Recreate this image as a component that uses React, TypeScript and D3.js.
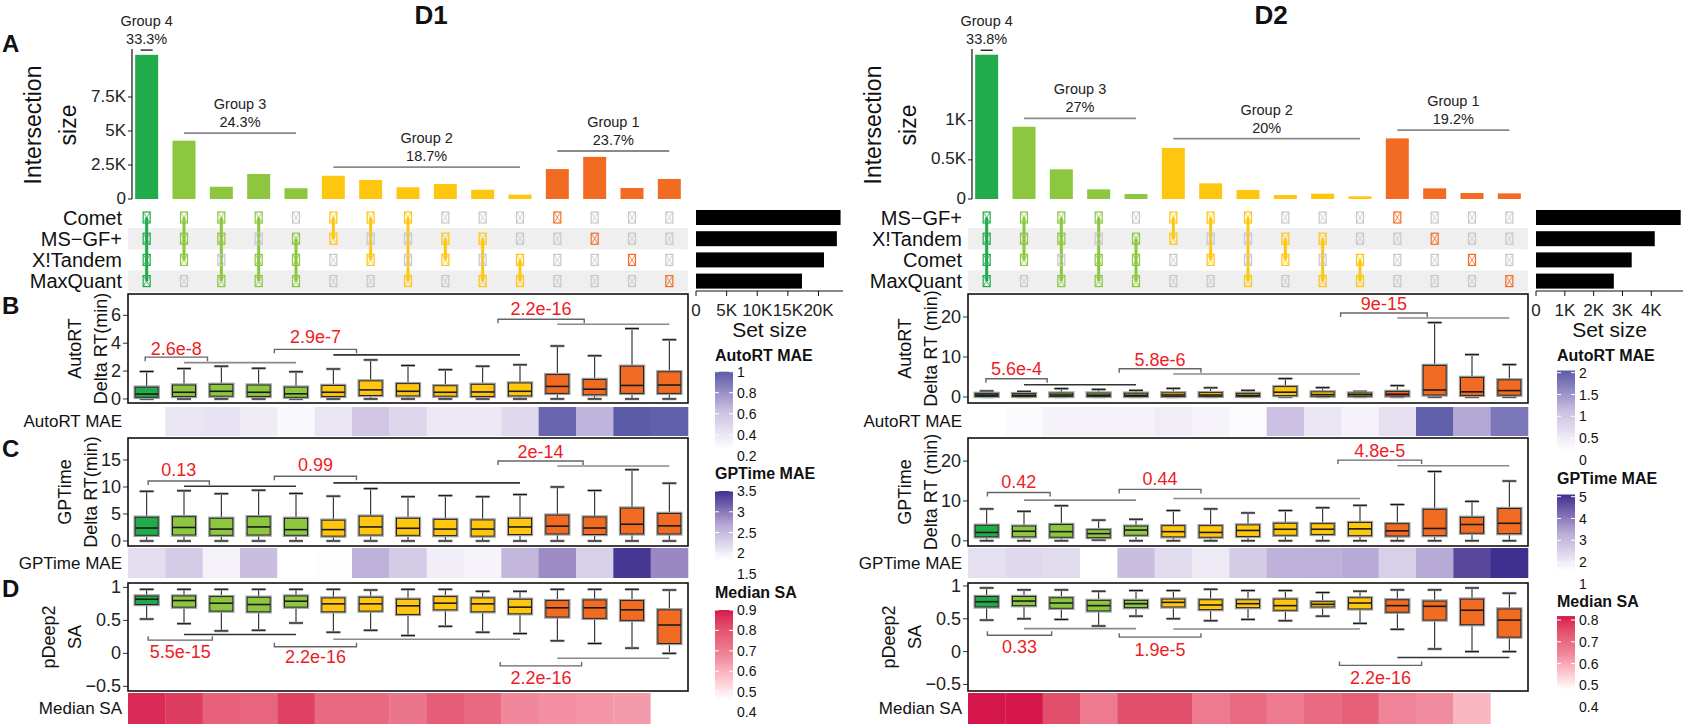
import React from "react";
import * as d3 from "d3";

const FONT = "'Liberation Sans', Arial, Helvetica, sans-serif";

// ---------- shared structure ----------
const columnGroup = [4, 3, 3, 3, 3, 2, 2, 2, 2, 2, 2, 1, 1, 1, 1];
const groupColor: Record<number, string> = { 4: "#21ab4a", 3: "#8dc63f", 2: "#ffc60f", 1: "#f26b22" };
const membership = [
  [1, 1, 1, 1], [1, 1, 1, 0], [1, 1, 0, 1], [1, 0, 1, 1], [0, 1, 1, 1],
  [1, 1, 0, 0], [1, 0, 1, 0], [1, 0, 0, 1], [0, 1, 1, 0], [0, 1, 0, 1], [0, 0, 1, 1],
  [1, 0, 0, 0], [0, 1, 0, 0], [0, 0, 1, 0], [0, 0, 0, 1],
];
const groupNames = ["Group 4", "Group 3", "Group 2", "Group 1"];
const groupSpans = [[1, 1], [2, 5], [6, 11], [12, 15]];
const heatLabels = ["AutoRT MAE", "GPTime MAE", "Median SA"];

// ---------- D1 ----------
const d1Sets = ["Comet", "MS−GF+", "X!Tandem", "MaxQuant"];
const d1SetSizes = [23.6, 23.0, 20.9, 17.3]; // K
const d1Intersections = [10.6, 4.29, 0.9, 1.84, 0.79, 1.71, 1.4, 0.86, 1.1, 0.68, 0.32, 2.2, 3.1, 0.81, 1.47]; // K
const d1GroupPct = ["33.3%", "24.3%", "18.7%", "23.7%"];
const d1GroupLineY = [10.95, 4.85, 2.35, 3.53];
const d1BarTicks = [0, 2.5, 5, 7.5];
const d1BarTickLabels = ["0", "2.5K", "5K", "7.5K"];
const d1SetTicks = [0, 5, 10, 15, 20];
const d1SetTickLabels = ["0", "5K", "10K", "15K", "20K"];
// boxes: [lower whisker, q1, median, q3, upper whisker]
const d1AutoRT = [
  [0, 0.12, 0.35, 0.85, 1.97], [0, 0.18, 0.48, 1.0, 2.18], [0, 0.2, 0.55, 1.05, 2.35], [0, 0.18, 0.48, 1.0, 2.2],
  [0, 0.12, 0.37, 0.85, 1.95], [0, 0.18, 0.48, 0.97, 2.15], [0, 0.25, 0.65, 1.3, 2.8], [0, 0.22, 0.55, 1.1, 2.4],
  [0, 0.2, 0.48, 0.95, 2.1], [0, 0.18, 0.5, 1.05, 2.35], [0, 0.22, 0.55, 1.15, 2.45], [0, 0.4, 0.9, 1.75, 3.8],
  [0, 0.3, 0.7, 1.4, 3.1], [0, 0.4, 0.97, 2.35, 5.05], [0, 0.4, 1.0, 1.95, 4.25],
];
const d1GPTime = [
  [0, 1.05, 2.4, 4.4, 9.2], [0, 1.1, 2.5, 4.5, 9.3], [0, 1.05, 2.2, 4.2, 8.75], [0, 1.1, 2.6, 4.5, 9.4],
  [0, 1.05, 2.1, 4.2, 8.8], [0, 0.9, 2.1, 3.85, 8.3], [0, 1.1, 2.6, 4.6, 9.7], [0, 1.05, 2.35, 4.2, 8.2],
  [0, 1.0, 2.2, 4.0, 8.4], [0, 0.9, 2.2, 3.9, 8.2], [0, 1.2, 2.6, 4.2, 8.6], [0, 1.3, 2.75, 4.8, 10.0],
  [0, 1.2, 2.4, 4.45, 9.35], [0, 1.3, 3.1, 6.1, 13.2], [0, 1.3, 2.8, 5.1, 10.7],
];
const d1SA = [
  [0.52, 0.74, 0.82, 0.87, 0.97], [0.45, 0.7, 0.8, 0.87, 0.97], [0.34, 0.64, 0.76, 0.86, 0.97], [0.35, 0.63, 0.74, 0.85, 0.97],
  [0.46, 0.7, 0.79, 0.87, 0.97], [0.32, 0.63, 0.75, 0.84, 0.97], [0.35, 0.64, 0.75, 0.85, 0.96], [0.27, 0.59, 0.72, 0.82, 0.97],
  [0.41, 0.66, 0.76, 0.86, 0.97], [0.32, 0.63, 0.75, 0.84, 0.94], [0.3, 0.6, 0.7, 0.82, 0.94], [0.19, 0.55, 0.69, 0.8, 0.97],
  [0.15, 0.53, 0.69, 0.81, 0.97], [0.08, 0.5, 0.66, 0.8, 0.97], [0.0, 0.15, 0.43, 0.66, 0.96],
];
// brackets: [fromCol, toCol, y, labelY, label]; spans: [fromCol, toCol, y, dark]
const d1AutoBrackets: [number, number, number, number, string][] = [
  [0.96, 2.63, 3.0, 3.56, "2.6e-8"], [4.42, 6.62, 3.56, 4.43, "2.9e-7"], [10.41, 12.72, 5.72, 6.44, "2.2e-16"],
];
const d1AutoSpans = [[2, 5, 2.61, 0], [6, 11, 3.16, 1], [12, 15, 5.36, 0]];
const d1GPBrackets: [number, number, number, number, string][] = [
  [1.04, 2.68, 11.12, 13.1, "0.13"], [4.42, 6.62, 11.98, 14.0, "0.99"], [10.41, 12.69, 14.81, 16.47, "2e-14"],
];
const d1GPSpans = [[2, 5, 10.14, 1], [6, 11, 10.76, 1], [12, 15, 13.89, 0]];
const d1SABrackets: [number, number, number, number, string][] = [
  [1.04, 2.76, 0.2, 0.025, "5.5e-15"], [4.42, 6.62, 0.1, -0.06, "2.2e-16"], [10.47, 12.65, -0.19, -0.375, "2.2e-16"],
];
const d1SASpans = [[2, 5, 0.285, 1], [6, 11, 0.215, 0], [12, 15, -0.075, 0]];
const d1AutoHeat = [0.26, 0.41, 0.42, 0.37, 0.3, 0.41, 0.59, 0.5, 0.39, 0.39, 0.48, 0.96, 0.67, 1.0, 0.98];
const d1GPHeat = [2.17, 2.34, 1.97, 2.47, 1.84, 1.86, 2.59, 2.34, 2.0, 1.94, 2.54, 2.87, 2.3, 3.45, 2.89];
const d1SAHeat = [0.877, 0.847, 0.77, 0.76, 0.84, 0.75, 0.75, 0.72, 0.78, 0.75, 0.675, 0.66, 0.65, 0.64, 0.46];
const d1AutoTicks = [1, 0.8, 0.6, 0.4, 0.2];
const d1GPTicks = [3.5, 3, 2.5, 2, 1.5];
const d1SATicks = [0.9, 0.8, 0.7, 0.6, 0.5, 0.4];

// ---------- D2 ----------
const d2Sets = ["MS−GF+", "X!Tandem", "Comet", "MaxQuant"];
const d2SetSizes = [5.02, 4.12, 3.32, 2.7];
const d2Intersections = [1.843, 0.923, 0.379, 0.123, 0.064, 0.651, 0.2, 0.115, 0.051, 0.068, 0.034, 0.774, 0.136, 0.077, 0.072];
const d2GroupPct = ["33.8%", "27%", "20%", "19.2%"];
const d2GroupLineY = [1.9, 1.03, 0.77, 0.88];
const d2BarTicks = [0, 0.5, 1];
const d2BarTickLabels = ["0", "0.5K", "1K"];
const d2SetTicks = [0, 1, 2, 3, 4];
const d2SetTickLabels = ["0", "1K", "2K", "3K", "4K"];
const d2AutoRT = [
  [0, 0.15, 0.45, 0.9, 1.5], [0, 0.15, 0.4, 0.85, 1.4], [0, 0.15, 0.5, 1.0, 2.1], [0, 0.15, 0.45, 1.0, 1.9],
  [0, 0.15, 0.4, 0.95, 1.65], [0, 0.15, 0.5, 1.05, 2.15], [0, 0.15, 0.5, 1.1, 2.3], [0, 0.15, 0.4, 0.9, 1.65],
  [0, 0.35, 1.2, 2.6, 4.6], [0, 0.2, 0.6, 1.3, 2.35], [0, 0.2, 0.6, 1.0, 1.4], [0, 0.25, 0.7, 1.4, 2.85],
  [0, 0.5, 1.75, 7.9, 18.6], [0, 0.4, 1.3, 4.9, 10.6], [0, 0.45, 1.6, 4.3, 8.1],
];
const d2GPTime = [
  [0, 1.0, 2.1, 3.9, 8.0], [0, 1.0, 2.4, 3.7, 7.4], [0, 0.9, 2.3, 4.1, 8.8], [0.2, 0.8, 1.8, 2.8, 5.2],
  [0, 1.4, 2.7, 3.7, 5.4], [0, 1.0, 2.3, 3.8, 7.6], [0, 0.9, 2.1, 3.8, 8.0], [0, 1.1, 2.6, 4.0, 7.0],
  [0, 1.4, 2.9, 4.4, 7.6], [0, 1.6, 2.9, 4.3, 8.3], [0, 1.3, 3.0, 4.6, 8.9], [0, 1.2, 2.5, 4.3, 9.1],
  [0, 1.3, 3.1, 7.9, 17.4], [0, 1.9, 4.1, 5.9, 9.9], [0, 1.8, 4.4, 8.1, 15.0],
];
const d2SA = [
  [0.48, 0.68, 0.76, 0.84, 0.97], [0.5, 0.7, 0.77, 0.84, 0.94], [0.49, 0.66, 0.74, 0.82, 0.94], [0.39, 0.62, 0.7, 0.78, 0.92],
  [0.54, 0.67, 0.73, 0.78, 0.93], [0.5, 0.68, 0.75, 0.8, 0.93], [0.47, 0.64, 0.71, 0.79, 0.95], [0.49, 0.67, 0.73, 0.79, 0.93],
  [0.47, 0.63, 0.7, 0.8, 0.93], [0.54, 0.68, 0.72, 0.76, 0.9], [0.43, 0.65, 0.74, 0.82, 0.92], [0.34, 0.6, 0.7, 0.79, 0.94],
  [0.04, 0.48, 0.69, 0.77, 0.94], [0.0, 0.41, 0.63, 0.8, 0.97], [0.0, 0.22, 0.48, 0.65, 0.89],
];
const d2AutoBrackets: [number, number, number, number, string][] = [
  [0.98, 2.62, 4.58, 7.1, "5.6e-4"], [4.55, 6.74, 7.08, 9.33, "5.8e-6"], [10.48, 12.8, 21.0, 23.2, "9e-15"],
];
const d2AutoSpans = [[2, 5, 3.08, 1], [6, 11, 5.75, 0], [12, 15, 19.75, 0]];
const d2GPBrackets: [number, number, number, number, string][] = [
  [1.02, 2.7, 12.13, 14.8, "0.42"], [4.55, 6.74, 12.9, 15.4, "0.44"], [10.41, 12.65, 20.25, 22.6, "4.8e-5"],
];
const d2GPSpans = [[2, 5, 10.2, 0], [6, 11, 10.63, 0], [12, 15, 18.83, 0]];
const d2SABrackets: [number, number, number, number, string][] = [
  [1.02, 2.74, 0.25, 0.07, "0.33"], [4.55, 6.74, 0.22, 0.03, "1.9e-5"], [10.45, 12.65, -0.21, -0.4, "2.2e-16"],
];
const d2SASpans = [[2, 5, 0.35, 0], [6, 11, 0.345, 0], [12, 15, -0.09, 1]];
const d2AutoHeat = [0.2, 0.27, 0.38, 0.4, 0.38, 0.45, 0.36, 0.25, 1.1, 0.56, 0.38, 0.65, 2.0, 1.32, 1.78];
const d2GPHeat = [2.23, 2.37, 2.3, 1.6, 2.93, 2.3, 2.02, 2.65, 3.18, 3.21, 3.35, 2.55, 3.35, 4.75, 5.1];
const d2SAHeat = [0.82, 0.82, 0.75, 0.67, 0.75, 0.75, 0.67, 0.7, 0.67, 0.7, 0.72, 0.65, 0.64, 0.58, 0.48];
const d2AutoTicks = [2, 1.5, 1, 0.5, 0];
const d2GPTicks = [5, 4, 3, 2, 1];
const d2SATicks = [0.8, 0.7, 0.6, 0.5, 0.4];

// ---------- helpers ----------
function textW(s: string, size: number) {
  let w = 0;
  for (const ch of s) {
    if ("0123456789".includes(ch)) w += 0.556;
    else if (ch === ".") w += 0.278;
    else if (ch === "−") w += 0.584;
    else if (ch === "K") w += 0.667;
    else w += 0.556;
  }
  return w * size;
}
const fmtTick = (v: number) => (v < 0 ? "−" + String(-v) : String(v));

const PURPLE_A = ["#ffffff", "#cbbfe1", "#5b5ba8"];
const PURPLE_G = ["#ffffff", "#b8aad6", "#3f3090"];
const CRIMSON = ["#ffffff", "#ef8499", "#d6174e"];
function makeColor(dom: number[], colors: string[]) {
  return d3.scaleLinear<string>()
    .domain([dom[0], (dom[0] + dom[1]) / 2, dom[1]])
    .range(colors)
    .interpolate(d3.interpolateLab)
    .clamp(true);
}

const BAND_W = 560;
const BAR_ZERO = 199;
const BAR_TOP = 49;
const ROW_Y0 = 217.5;
const ROW_H = 21.2;

type BoxPanelProps = {
  L: number; top: number; bottom: number; domain: number[]; ticks: number[];
  boxes: number[][]; brackets: [number, number, number, number, string][]; spans: number[][];
  title1: string; title2: string;
};

function BoxPanel({ L, top, bottom, domain, ticks, boxes, brackets, spans, title1, title2 }: BoxPanelProps) {
  const y = d3.scaleLinear().domain(domain).range([bottom, top]);
  const cx = d3.scaleLinear().domain([0.5, 15.5]).range([L, L + BAND_W]);
  const tickFont = 18;
  const maxW = d3.max(ticks, (t) => textW(fmtTick(t), tickFont)) || 0;
  const labRight = L - 7;
  const t2x = labRight - maxW - 10;
  const t1x = t2x - 26;
  const midY = (top + bottom) / 2;
  const hw = 11.5;
  return (
    <g>
      {ticks.map((t) => (
        <g key={t}>
          <line x1={L - 5} x2={L} y1={y(t)} y2={y(t)} stroke="#333" strokeWidth={1} />
          <text x={labRight} y={y(t)} textAnchor="end" dominantBaseline="central" fontSize={tickFont} fill="#222">
            {fmtTick(t)}
          </text>
        </g>
      ))}
      <text transform={`translate(${t1x},${midY}) rotate(-90)`} textAnchor="middle" dominantBaseline="central" fontSize={18} fill="#111">
        {title1}
      </text>
      <text transform={`translate(${t2x},${midY}) rotate(-90)`} textAnchor="middle" dominantBaseline="central" fontSize={18} fill="#111">
        {title2}
      </text>
      {spans.map((s, i) => (
        <line key={"s" + i} x1={cx(s[0])} x2={cx(s[1])} y1={y(s[2])} y2={y(s[2])} stroke={s[3] ? "#333" : "#8a8a8a"} strokeWidth={1.6} />
      ))}
      {brackets.map((b, i) => {
        const yb = y(b[2]);
        const labelAbove = b[3] > b[2];
        const t = labelAbove ? 4 : -4;
        const x1 = cx(b[0]);
        const x2 = cx(b[1]);
        return (
          <g key={"b" + i}>
            <path d={`M${x1},${yb + t}L${x1},${yb}L${x2},${yb}L${x2},${yb + t}`} fill="none" stroke="#666" strokeWidth={1.4} />
            <text x={(x1 + x2) / 2} y={y(b[3])} textAnchor="middle" dominantBaseline="central" fontSize={18} fill="#ee1c25">
              {b[4]}
            </text>
          </g>
        );
      })}
      {boxes.map((bx, i) => {
        const c = cx(i + 1);
        const [lw, q1, med, q3, uw] = bx;
        const col = groupColor[columnGroup[i]];
        return (
          <g key={"x" + i}>
            <line x1={c} x2={c} y1={y(uw)} y2={y(q3)} stroke="#111" strokeWidth={1} />
            <line x1={c} x2={c} y1={y(q1)} y2={y(lw)} stroke="#111" strokeWidth={1} />
            <line x1={c - 7} x2={c + 7} y1={y(uw)} y2={y(uw)} stroke="#9a9a9a" strokeWidth={2.6} />
            <line x1={c - 7} x2={c + 7} y1={y(lw)} y2={y(lw)} stroke="#9a9a9a" strokeWidth={2.6} />
            <line x1={c - 7} x2={c + 7} y1={y(uw)} y2={y(uw)} stroke="#111" strokeWidth={1} />
            <line x1={c - 7} x2={c + 7} y1={y(lw)} y2={y(lw)} stroke="#111" strokeWidth={1} />
            <rect x={c - hw - 1} y={y(q3) - 1} width={2 * hw + 2} height={y(q1) - y(q3) + 2} fill="none" stroke="#a0a0a0" strokeWidth={1.4} />
            <rect x={c - hw} y={y(q3)} width={2 * hw} height={y(q1) - y(q3)} fill={col} stroke="#222" strokeWidth={1} />
            <line x1={c - hw} x2={c + hw} y1={y(med)} y2={y(med)} stroke="#1a1a1a" strokeWidth={1.6} />
          </g>
        );
      })}
      <rect x={L} y={top} width={BAND_W} height={bottom - top} fill="none" stroke="#111" strokeWidth={1.6} />
    </g>
  );
}

function HeatRow({ L, top, bottom, values, color, label }: { L: number; top: number; bottom: number; values: number[]; color: (v: number) => string; label: string }) {
  const step = BAND_W / 15;
  return (
    <g>
      {values.map((v, i) => (
        <rect key={i} x={L + i * step} y={top} width={step + 0.3} height={bottom - top} fill={color(v)} />
      ))}
      <text x={L - 6} y={(top + bottom) / 2} textAnchor="end" dominantBaseline="central" fontSize={17} fill="#111">
        {label}
      </text>
    </g>
  );
}

function Legend({ x, titleY, title, topY, spacing, ticks, dom, color, id }: {
  x: number; titleY: number; title: string; topY: number; spacing: number; ticks: number[]; dom: number[]; color: (v: number) => string; id: string;
}) {
  const step = ticks[0] - ticks[1];
  const ppu = spacing / step;
  const yv = (v: number) => topY + (ticks[0] - v) * ppu;
  const y0 = yv(dom[1]);
  const y1 = yv(dom[0]);
  const stops = d3.range(0, 11).map((k) => k / 10);
  const bw = 18;
  return (
    <g>
      <defs>
        <linearGradient id={id} x1="0" x2="0" y1="0" y2="1">
          {stops.map((s) => (
            <stop key={s} offset={s} stopColor={color(dom[1] - s * (dom[1] - dom[0]))} />
          ))}
        </linearGradient>
      </defs>
      <text x={x} y={titleY} fontSize={16} fontWeight="bold" fill="#111">{title}</text>
      <rect x={x} y={y0} width={bw} height={y1 - y0} fill={`url(#${id})`} />
      {ticks.map((t) => (
        <g key={t}>
          {yv(t) >= y0 - 0.5 && yv(t) <= y1 + 0.5 && (
            <>
              <line x1={x} x2={x + 4} y1={yv(t)} y2={yv(t)} stroke="#fff" strokeWidth={1} />
              <line x1={x + bw - 4} x2={x + bw} y1={yv(t)} y2={yv(t)} stroke="#fff" strokeWidth={1} />
            </>
          )}
          <text x={x + bw + 4} y={yv(t) + 5} fontSize={14} fill="#111">{String(t)}</text>
        </g>
      ))}
    </g>
  );
}

type DatasetProps = {
  L: number; title: string; sets: string[]; setSizes: number[]; setMax: number; setTicks: number[]; setTickLabels: string[];
  inter: number[]; barMax: number; barTicks: number[]; barTickLabels: string[]; groupPct: string[]; groupLineY: number[];
  auto: number[][]; gp: number[][]; sa: number[][];
  autoBr: [number, number, number, number, string][]; autoSp: number[][];
  gpBr: [number, number, number, number, string][]; gpSp: number[][];
  saBr: [number, number, number, number, string][]; saSp: number[][];
  autoDom: number[]; gpDom: number[]; saDom: number[];
  saDomLeg: number[]; autoDomLeg: number[]; gpDomLeg: number[];
  autoHeat: number[]; gpHeat: number[]; saHeat: number[];
  autoTicks: number[]; gpTicks: number[]; saTicks: number[];
  legX: number; legTitleY: number[]; legTopY: number[]; legSpacing: number[];
  delta: string; id: string;
};

function Dataset(p: DatasetProps) {
  const L = p.L;
  const band = d3.scaleBand<number>().domain(d3.range(15)).range([L, L + BAND_W]).paddingInner(0.384).paddingOuter(0.192);
  const cx = (i: number) => (band(i) as number) + band.bandwidth() / 2;
  const yBar = d3.scaleLinear().domain([0, p.barMax]).range([BAR_ZERO, BAR_TOP]);
  const rowY = (r: number) => ROW_Y0 + r * ROW_H;
  const sx = d3.scaleLinear().domain([0, p.setMax]).range([L + BAND_W + 8, L + BAND_W + 8 + 147]);
  const autoColor = makeColor(p.autoDomLeg, PURPLE_A);
  const gpColor = makeColor(p.gpDomLeg, PURPLE_G);
  const saColor = makeColor(p.saDomLeg, CRIMSON);

  return (
    <g>
      <text x={L + 303} y={24} textAnchor="middle" fontSize={26} fontWeight="bold" fill="#111">{p.title}</text>
      {/* intersection bars */}
      <text transform={`translate(${L - 95},125) rotate(-90)`} textAnchor="middle" dominantBaseline="central" fontSize={23} fill="#111">Intersection</text>
      <text transform={`translate(${L - 60},125) rotate(-90)`} textAnchor="middle" dominantBaseline="central" fontSize={23} fill="#111">size</text>
      <line x1={L + 4} x2={L + 4} y1={BAR_TOP} y2={BAR_ZERO} stroke="#111" strokeWidth={1.2} />
      {p.barTicks.map((t, i) => (
        <g key={t}>
          <line x1={L} x2={L + 4} y1={yBar(t)} y2={yBar(t)} stroke="#111" />
          <text x={L - 2} y={yBar(t) - 1} textAnchor="end" dominantBaseline="central" fontSize={17} fill="#222">{p.barTickLabels[i]}</text>
        </g>
      ))}
      {p.inter.map((v, i) => (
        <rect key={i} x={band(i)} y={yBar(v)} width={band.bandwidth()} height={BAR_ZERO - yBar(v)} fill={groupColor[columnGroup[i]]} />
      ))}
      {groupSpans.map((s, g) => {
        const x1 = cx(s[0] - 1);
        const x2 = cx(s[1] - 1);
        const ly = yBar(p.groupLineY[g]);
        const single = s[0] === s[1];
        const mid = (x1 + x2) / 2;
        return (
          <g key={g}>
            <line x1={single ? mid - 6 : x1} x2={single ? mid + 6 : x2} y1={ly} y2={ly} stroke={single ? "#111" : "#8a8a8a"} strokeWidth={single ? 1.3 : 1.8} />
            <text x={mid} y={ly - 24} textAnchor="middle" fontSize={14.5} fill="#222">{groupNames[g]}</text>
            <text x={mid} y={ly - 6} textAnchor="middle" fontSize={14.5} fill="#222">{p.groupPct[g]}</text>
          </g>
        );
      })}
      {/* matrix */}
      {[1, 3].map((r) => (
        <rect key={r} x={L} y={rowY(r) - ROW_H / 2} width={BAND_W} height={ROW_H} fill="#efefef" />
      ))}
      {p.sets.map((s, r) => (
        <text key={s} x={L - 6} y={rowY(r)} textAnchor="end" dominantBaseline="central" fontSize={20} fill="#111">{s}</text>
      ))}
      {membership.map((m, i) => {
        const col = groupColor[columnGroup[i]];
        const rows = m.map((v, r) => (v ? r : -1)).filter((r) => r >= 0);
        const c = cx(i);
        return (
          <g key={i}>
            {rows.length > 1 && (
              <line x1={c} x2={c} y1={rowY(rows[0])} y2={rowY(rows[rows.length - 1])} stroke={col} strokeWidth={3} />
            )}
            {m.map((v, r) => {
              const stroke = v ? col : "#c8c8c8";
              const w = 7;
              const h = 11;
              const x0 = c - w / 2;
              const y0 = rowY(r) - h / 2;
              return (
                <g key={r}>
                  <rect x={x0} y={y0} width={w} height={h} fill="none" stroke={stroke} strokeWidth={1.2} />
                  <path d={`M${x0},${y0}L${x0 + w},${y0 + h}M${x0 + w},${y0}L${x0},${y0 + h}`} stroke={stroke} strokeWidth={0.8} />
                </g>
              );
            })}
          </g>
        );
      })}
      {/* set sizes */}
      {p.setSizes.map((v, r) => (
        <rect key={r} x={sx(0)} y={rowY(r) - 7.5} width={sx(v) - sx(0)} height={15} fill="#000" />
      ))}
      <line x1={sx(0)} x2={sx(p.setMax)} y1={291} y2={291} stroke="#111" strokeWidth={1.2} />
      {p.setTicks.map((t, i) => (
        <g key={t}>
          <line x1={sx(t)} x2={sx(t)} y1={291} y2={296} stroke="#111" />
          <text x={sx(t)} y={316} textAnchor="middle" fontSize={17} fill="#222">{p.setTickLabels[i]}</text>
        </g>
      ))}
      <text x={(sx(0) + sx(p.setMax)) / 2} y={337} textAnchor="middle" fontSize={21} fill="#111">Set size</text>

      {/* box panels */}
      <BoxPanel L={L} top={294} bottom={403} domain={p.autoDom} ticks={p.id === "d1" ? [0, 2, 4, 6] : [0, 10, 20]}
        boxes={p.auto} brackets={p.autoBr} spans={p.autoSp} title1="AutoRT" title2={p.delta} />
      <HeatRow L={L} top={407} bottom={436} values={p.autoHeat} color={autoColor} label={heatLabels[0]} />
      <BoxPanel L={L} top={438} bottom={546} domain={p.gpDom} ticks={p.id === "d1" ? [0, 5, 10, 15] : [0, 10, 20]}
        boxes={p.gp} brackets={p.gpBr} spans={p.gpSp} title1="GPTime" title2={p.delta} />
      <HeatRow L={L} top={548} bottom={578} values={p.gpHeat} color={gpColor} label={heatLabels[1]} />
      <BoxPanel L={L} top={583} bottom={691} domain={p.saDom} ticks={[-0.5, 0, 0.5, 1]}
        boxes={p.sa} brackets={p.saBr} spans={p.saSp} title1="pDeep2" title2="SA" />
      <HeatRow L={L} top={693} bottom={724} values={p.saHeat} color={saColor} label={heatLabels[2]} />

      {/* legends */}
      <Legend x={p.legX} titleY={p.legTitleY[0]} title="AutoRT MAE" topY={p.legTopY[0]} spacing={p.legSpacing[0]} ticks={p.autoTicks} dom={p.autoDomLeg} color={autoColor} id={p.id + "a"} />
      <Legend x={p.legX} titleY={p.legTitleY[1]} title="GPTime MAE" topY={p.legTopY[1]} spacing={p.legSpacing[1]} ticks={p.gpTicks} dom={p.gpDomLeg} color={gpColor} id={p.id + "g"} />
      <Legend x={p.legX} titleY={p.legTitleY[2]} title="Median SA" topY={p.legTopY[2]} spacing={p.legSpacing[2]} ticks={p.saTicks} dom={p.saDomLeg} color={saColor} id={p.id + "s"} />
    </g>
  );
}

export default function App() {
  return (
    <svg width={1686} height={724} style={{ position: "absolute", left: 0, top: 0, background: "#fff" }} fontFamily={FONT}>
      <rect width={1686} height={724} fill="#fff" />
      <text x={2} y={52} fontSize={24} fontWeight="bold" fill="#111">A</text>
      <text x={2} y={314} fontSize={24} fontWeight="bold" fill="#111">B</text>
      <text x={2} y={457} fontSize={24} fontWeight="bold" fill="#111">C</text>
      <text x={2} y={597} fontSize={24} fontWeight="bold" fill="#111">D</text>
      <Dataset
        id="d1" L={128} title="D1" sets={d1Sets} setSizes={d1SetSizes} setMax={24} setTicks={d1SetTicks} setTickLabels={d1SetTickLabels}
        inter={d1Intersections} barMax={150 / 13.6} barTicks={d1BarTicks} barTickLabels={d1BarTickLabels}
        groupPct={d1GroupPct} groupLineY={d1GroupLineY}
        auto={d1AutoRT} gp={d1GPTime} sa={d1SA}
        autoBr={d1AutoBrackets} autoSp={d1AutoSpans} gpBr={d1GPBrackets} gpSp={d1GPSpans} saBr={d1SABrackets} saSp={d1SASpans}
        autoDom={[-0.29, 7.53]} gpDom={[-0.93, 19.07]} saDom={[-0.57, 1.066]}
        autoDomLeg={[0.26, 1.0]} gpDomLeg={[1.84, 3.5]} saDomLeg={[0.46, 0.9]}
        autoHeat={d1AutoHeat} gpHeat={d1GPHeat} saHeat={d1SAHeat}
        autoTicks={d1AutoTicks} gpTicks={d1GPTicks} saTicks={d1SATicks}
        legX={715} legTitleY={[361, 479, 598]} legTopY={[371.7, 491, 610]} legSpacing={[21, 20.8, 20.4]}
        delta="Delta RT(min)"
      />
      <Dataset
        id="d2" L={968} title="D2" sets={d2Sets} setSizes={d2SetSizes} setMax={5.1} setTicks={d2SetTicks} setTickLabels={d2SetTickLabels}
        inter={d2Intersections} barMax={150 / 78.3} barTicks={d2BarTicks} barTickLabels={d2BarTickLabels}
        groupPct={d2GroupPct} groupLineY={d2GroupLineY}
        auto={d2AutoRT} gp={d2GPTime} sa={d2SA}
        autoBr={d2AutoBrackets} autoSp={d2AutoSpans} gpBr={d2GPBrackets} gpSp={d2GPSpans} saBr={d2SABrackets} saSp={d2SASpans}
        autoDom={[-1.5, 25.75]} gpDom={[-1.3, 25.8]} saDom={[-0.6, 1.045]}
        autoDomLeg={[0.2, 2.05]} gpDomLeg={[1.6, 5.1]} saDomLeg={[0.48, 0.818]}
        autoHeat={d2AutoHeat} gpHeat={d2GPHeat} saHeat={d2SAHeat}
        autoTicks={d2AutoTicks} gpTicks={d2GPTicks} saTicks={d2SATicks}
        legX={1557} legTitleY={[361, 484, 607]} legTopY={[372.7, 496.7, 620]} legSpacing={[21.8, 21.8, 21.8]}
        delta="Delta RT (min)"
      />
    </svg>
  );
}
